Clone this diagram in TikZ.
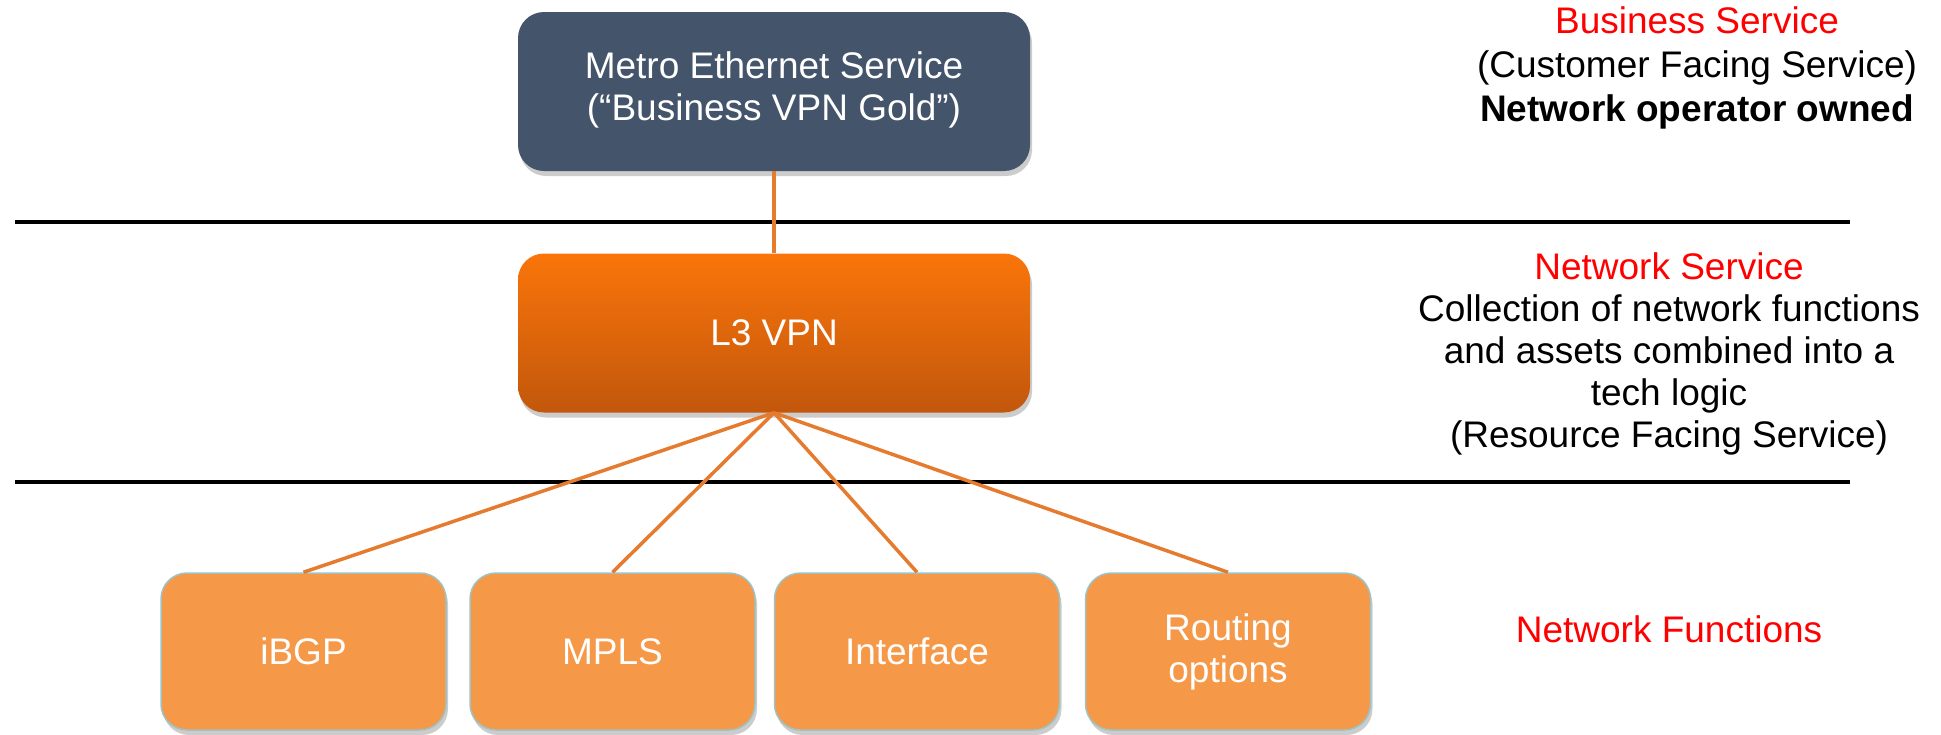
\documentclass[tikz,border=0pt]{standalone}
\usepackage{fontspec}
\setmainfont{Liberation Sans}
\usetikzlibrary{shadows}
\definecolor{slate}{HTML}{44546A}
\definecolor{vpntop}{HTML}{FA750A}
\definecolor{vpnbot}{HTML}{C2570C}
\definecolor{fnfill}{HTML}{F59848}
\definecolor{fnedge}{HTML}{9EC3C4}
\definecolor{conncol}{HTML}{E57B2E}
\definecolor{labred}{HTML}{FF0000}
\begin{document}
\begin{tikzpicture}[x=1pt,y=-1pt,
  every node/.style={font=\fontsize{37}{42}\selectfont},
  softshadow/.style={drop shadow={opacity=0.4, shadow xshift=2pt, shadow yshift=-5pt}},
  topbox/.style={rectangle, rounded corners=26pt, fill=slate, text=white,
    minimum width=512pt, minimum height=159pt, align=center, softshadow},
  vpnbox/.style={rectangle, rounded corners=26pt, top color=vpntop, bottom color=vpnbot,
    text=white, minimum width=512pt, minimum height=159pt, align=center, softshadow},
  fnbox/.style={rectangle, rounded corners=26pt, fill=fnfill, draw=fnedge, line width=1.5pt,
    text=white, minimum width=285pt, minimum height=157pt, align=center, softshadow},
  sepline/.style={line width=4pt, black},
  conn/.style={line width=3.5pt, conncol},
  sidetext/.style={align=center, text=black},
]
\useasboundingbox (0,0) rectangle (1941,734);

% separator lines
\coordinate (l1a) at (15,222);
\coordinate (l1b) at (1850,222);
\coordinate (l2a) at (15,482);
\coordinate (l2b) at (1850,482);
\draw[sepline] (l1a) -- (l1b);
\draw[sepline] (l2a) -- (l2b);

% boxes
\node[topbox] (top) at (774,91.5) {};
\node[text=white, align=center] (toptxt) at (774,90) {Metro Ethernet Service\\(“Business VPN Gold”)};
\node[vpnbox] (vpn) at (774,333) {L3 VPN};
\node[fnbox] (ibgp) at (303.5,651.5) {iBGP};
\node[fnbox] (mpls) at (612.5,651.5) {MPLS};
\node[fnbox] (intf) at (917,651.5) {Interface};
\node[fnbox] (rout) at (1228,651.5) {Routing\\options};

% connectors
\draw[conn] (top.south) -- (vpn.north);
\draw[conn] (vpn.south) -- (ibgp.north);
\draw[conn] (vpn.south) -- (mpls.north);
\draw[conn] (vpn.south) -- (intf.north);
\draw[conn] (vpn.south) -- (rout.north);

% side texts
\node[sidetext, font=\fontsize{37}{44}\selectfont] (bs) at (1697,68) {\textcolor{labred}{Business Service}\\(Customer Facing Service)\\\textbf{Network operator owned}};
\node[sidetext] (ns) at (1669,354) {\textcolor{labred}{Network Service}\\Collection of network functions\\and assets combined into a\\tech logic\\(Resource Facing Service)};
\node[sidetext, text=labred] (nf) at (1669,629) {Network Functions};
\end{tikzpicture}
\end{document}
